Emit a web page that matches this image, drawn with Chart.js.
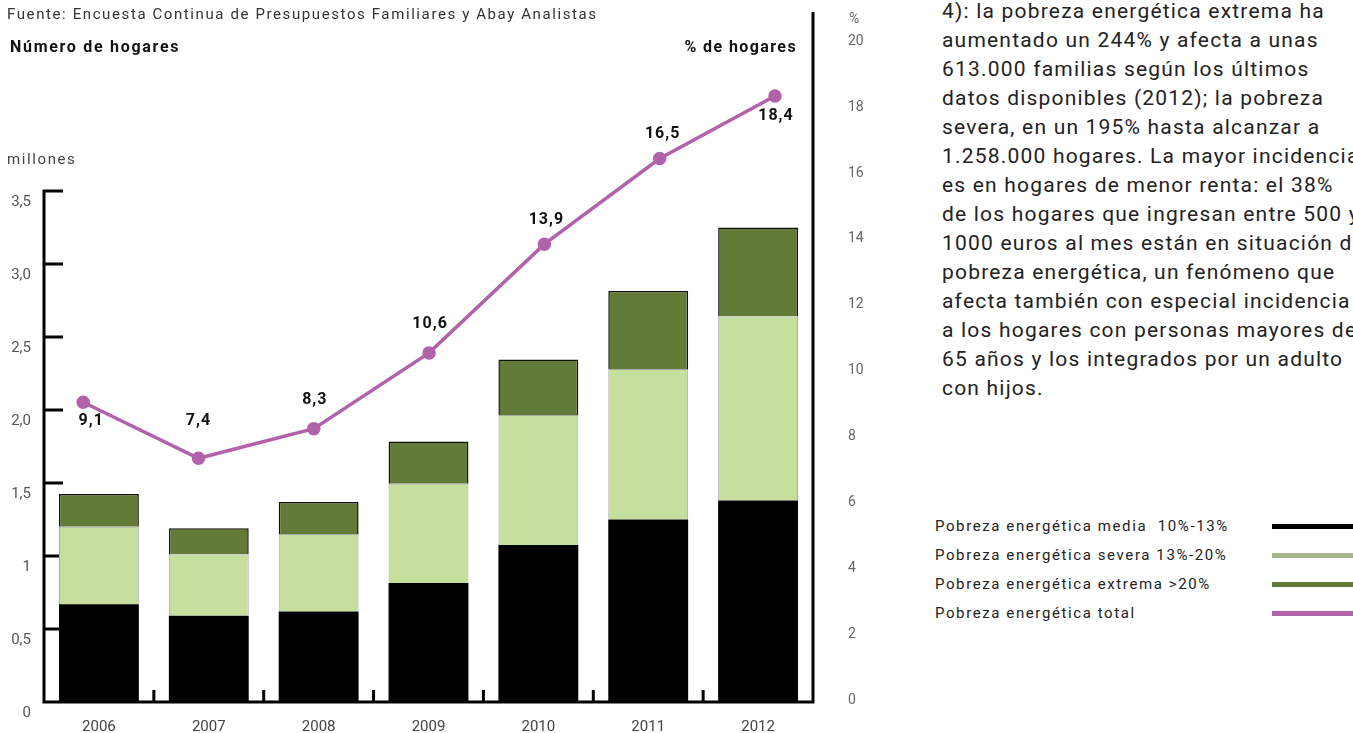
<!DOCTYPE html>
<html>
<head>
<meta charset="utf-8">
<script src="https://cdn.jsdelivr.net/npm/chart.js@4"></script>
<style>
  html, body { margin: 0; overflow: hidden; }
  body { width: 1353px; height: 733px; background: #fff; font-family: Roboto, sans-serif; color: #222; position: relative; }
  #wrap { position: absolute; left: 0; top: 0; width: 900px; height: 733px; }
  .t { position: absolute; white-space: nowrap; line-height: 1; letter-spacing: 1.6px; }
  #lado { position: absolute; left: 900px; top: 0; width: 453px; height: 733px; overflow: hidden; }
  #texto { position: absolute; left: 42px; top: -3px; font-size: 21px; line-height: 29px; color: #222; white-space: nowrap; letter-spacing: 1.2px; }
  #leyenda { position: absolute; left: 35px; top: 512px; font-size: 15px; color: #222; letter-spacing: 1.6px; }
  #leyenda div { position: relative; height: 29px; line-height: 29px; width: 418px; white-space: pre; }
  #leyenda span { position: absolute; left: 337px; top: 12px; width: 90px; height: 5px; }
</style>
</head>
<body>
<div id="wrap"><canvas id="myChart"></canvas></div>
<div class="t" style="left:7px;top:7px;font-size:15px;color:#333">Fuente: Encuesta Continua de Presupuestos Familiares y Abay Analistas</div>
<div class="t" style="left:10px;top:39px;font-size:16px;font-weight:bold;color:#111;letter-spacing:1.7px">Número de hogares</div>
<div class="t" style="right:556px;top:39px;font-size:16px;font-weight:bold;color:#111;letter-spacing:1.4px">% de hogares</div>
<div class="t" style="left:7px;top:152px;font-size:15px;color:#444">millones</div>
<div class="t" style="left:849px;top:11px;font-size:14px;color:#666;letter-spacing:0">%</div>
<div id="lado"><div id="texto"></div><div id="leyenda"></div></div>
<script>
// datos
const years = ["2006", "2007", "2008", "2009", "2010", "2011", "2012"];
const media = [0.67, 0.59, 0.62, 0.815, 1.075, 1.25, 1.38];
const severa = [0.53, 0.42, 0.53, 0.68, 0.89, 1.03, 1.26];
const extrema = [0.225, 0.18, 0.22, 0.29, 0.38, 0.535, 0.61];
const total = [9.1, 7.4, 8.3, 10.6, 13.9, 16.5, 18.4];
const totalLabels = ["9,1", "7,4", "8,3", "10,6", "13,9", "16,5", "18,4"];
const leftTicks = [0, 0.5, 1, 1.5, 2, 2.5, 3, 3.5];
const leftTickLabels = ["0", "0,5", "1", "1,5", "2,0", "2,5", "3,0", "3,5"];
const rightTicks = [0, 2, 4, 6, 8, 10, 12, 14, 16, 18, 20];
const legendNames = ["Pobreza energética media  10%-13%", "Pobreza energética severa 13%-20%", "Pobreza energética extrema >20%", "Pobreza energética total"];

const legendColors = ["#000000", "#a9b58b", "#637b37", "#b262ab"];
const labelDx = [8, 0, 1, 1, 2, 3, 1];
const labelDy = [19, -37, -29, -29, -24, -25, 20];

const parrafo = [
  "4): la pobreza energética extrema ha",
  "aumentado un 244% y afecta a unas",
  "613.000 familias según los últimos",
  "datos disponibles (2012); la pobreza",
  "severa, en un 195% hasta alcanzar a",
  "1.258.000 hogares. La mayor incidencia",
  "es en hogares de menor renta: el 38%",
  "de los hogares que ingresan entre 500 y",
  "1000 euros al mes están en situación de",
  "pobreza energética, un fenómeno que",
  "afecta también con especial incidencia",
  "a los hogares con personas mayores de",
  "65 años y los integrados por un adulto",
  "con hijos."
];
document.getElementById('texto').innerHTML = parrafo.join('<br>');
document.getElementById('leyenda').innerHTML = legendNames.map((n, i) =>
  `<div>${n}<span style="background:${legendColors[i]}"></span></div>`).join('');

// quita el relleno extra que chart.js deja por las etiquetas
function noPad(s) {
  s.paddingTop = 0; s.paddingBottom = 0; s.paddingLeft = 0; s.paddingRight = 0;
}

// ejes dibujados a mano (ticks hacia dentro, linea derecha)
const ejes = {
  id: 'ejes',
  beforeDatasetsDraw(chart) {
    const ctx = chart.ctx, a = chart.chartArea, y = chart.scales.y, x = chart.scales.x;
    ctx.save();
    ctx.strokeStyle = '#000';
    ctx.lineWidth = 3;
    ctx.beginPath();
    ctx.moveTo(a.left, y.getPixelForValue(3.5) - 1.5);
    ctx.lineTo(a.left, a.bottom);
    leftTicks.forEach(v => {
      if (v === 0) return;
      const py = y.getPixelForValue(v);
      ctx.moveTo(a.left, py);
      ctx.lineTo(a.left + 19, py);
    });
    ctx.moveTo(a.left - 1.5, a.bottom);
    ctx.lineTo(a.right + 1.5, a.bottom);
    for (let i = 1; i < years.length; i++) {
      const px = (x.getPixelForValue(i - 1) + x.getPixelForValue(i)) / 2;
      ctx.moveTo(px, a.bottom);
      ctx.lineTo(px, a.bottom - 12);
    }
    ctx.moveTo(a.right, 12);
    ctx.lineTo(a.right, a.bottom);
    ctx.stroke();
    ctx.restore();
  },
  afterDatasetsDraw(chart) {
    const ctx = chart.ctx;
    const meta = chart.getDatasetMeta(3);
    ctx.save();
    ctx.font = 'bold 16px Roboto';
    ctx.letterSpacing = '1px';
    ctx.fillStyle = '#111';
    ctx.textAlign = 'center';
    ctx.textBaseline = 'middle';
    meta.data.forEach((p, i) => {
      ctx.fillText(totalLabels[i], p.x + labelDx[i], p.y + labelDy[i]);
    });
    ctx.restore();
  }
};

new Chart('myChart', {
  type: 'bar',
  data: {
    labels: years,
    datasets: [
      { label: legendNames[0], data: media, backgroundColor: '#000000', borderWidth: 0, stack: 'h', grouped: false, order: 2 },
      { label: legendNames[1], data: severa, backgroundColor: '#c6df9d', borderColor: '#a8a8a8', borderWidth: 1, stack: 'h', grouped: false, order: 2 },
      { label: legendNames[2], data: extrema, backgroundColor: '#637b37', borderColor: '#111', borderWidth: 1.5, stack: 'h', grouped: false, order: 2 },
      {
        type: 'line', label: legendNames[3],
        data: total.map((v, i) => ({ x: i, y: v })),
        xAxisID: 'x2', yAxisID: 'y2',
        borderColor: '#b262ab', backgroundColor: '#b262ab',
        borderWidth: 3.5, pointRadius: 5, pointHoverRadius: 5, order: 0
      }
    ]
  },
  options: {
    responsive: true,
    maintainAspectRatio: false,
    animation: false,
    barPercentage: 0.727,
    categoryPercentage: 1,
    layout: { padding: { top: 40, left: 0, right: 0, bottom: 0 } },
    plugins: { legend: { display: false }, tooltip: { enabled: false } },
    scales: {
      x: {
        stacked: true,
        grid: { display: false, drawTicks: false }, border: { display: false },
        ticks: { color: '#444', font: { size: 15, family: 'Roboto' }, padding: 16 },
        afterFit(s) { s.height = 31; noPad(s); }
      },
      x2: { type: 'linear', display: false, offset: false, min: -0.34, max: 6.33 },
      y: {
        stacked: true, min: 0, max: 4.534,
        grid: { display: false, drawTicks: false }, border: { display: false },
        afterBuildTicks(s) { s.ticks = leftTicks.map(v => ({ value: v })); },
        ticks: {
          color: '#555', font: { size: 15, family: 'Roboto' }, padding: 13, labelOffset: 11,
          callback: (v, i) => leftTickLabels[i]
        },
        afterFit(s) { s.width = 44; noPad(s); }
      },
      y2: {
        position: 'right', min: 0, max: 20.1,
        afterBuildTicks(s) { s.ticks = rightTicks.map(v => ({ value: v })); },
        grid: { display: false, drawTicks: false }, border: { display: false },
        ticks: { color: '#666', font: { size: 14, family: 'Roboto' }, padding: 35, labelOffset: -2, callback: (v, i) => String(rightTicks[i]) },
        afterFit(s) { s.width = 87; noPad(s); }
      }
    }
  },
  plugins: [ejes]
});
</script>
</body>
</html>
